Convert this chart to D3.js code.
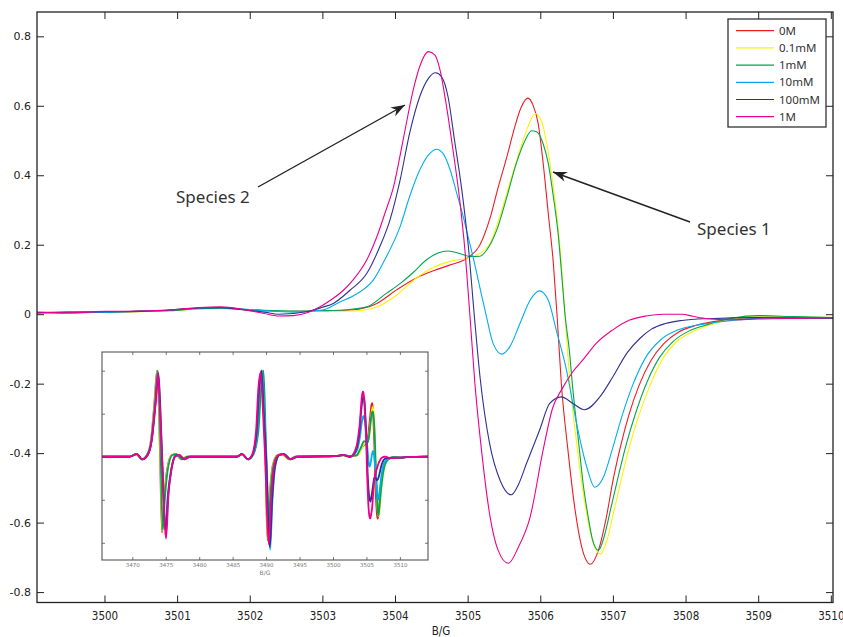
<!DOCTYPE html>
<html><head><meta charset="utf-8">
<script src="https://cdn.jsdelivr.net/npm/d3@7"></script>
<style>body{margin:0;background:#fff} svg{display:block}</style>
</head><body>
<svg id="c" width="843" height="637"></svg>
<script>
// ---------- data ----------
const seriesNames = ["0M","0.1mM","1mM","10mM","100mM","1M"];
const seriesColors = ["#ed1c24","#fff200","#00a651","#00aeef","#2e3192","#ec008c"];
const xTicks = [3500,3501,3502,3503,3504,3505,3506,3507,3508,3509,3510];
const yTicks = [-0.8,-0.6,-0.4,-0.2,0,0.2,0.4,0.6,0.8];
const insetXTicks = [3470,3475,3480,3485,3490,3495,3500,3505,3510];
const insetYTicks = [-1,-0.5,0,0.5,1];

const red = [[3499.07,0.004],[3499.5,0.005],[3500.0,0.006],[3500.5,0.008],[3500.9,0.011],[3501.3,0.017],[3501.6,0.018],[3501.9,0.014],[3502.2,0.01],[3502.6,0.008],[3503.0,0.01],[3503.38,0.012],[3503.75,0.031],[3504.02,0.07],[3504.3,0.105],[3504.53,0.125],[3504.76,0.142],[3505.0,0.162],[3505.17,0.2],[3505.31,0.278],[3505.42,0.365],[3505.54,0.453],[3505.65,0.54],[3505.74,0.597],[3505.83,0.622],[3505.9,0.602],[3505.97,0.55],[3506.04,0.434],[3506.11,0.29],[3506.18,0.146],[3506.23,0.0],[3506.29,-0.2],[3506.38,-0.39],[3506.48,-0.565],[3506.57,-0.67],[3506.69,-0.72],[3506.8,-0.68],[3506.91,-0.584],[3507.0,-0.48],[3507.1,-0.385],[3507.22,-0.29],[3507.36,-0.205],[3507.52,-0.135],[3507.7,-0.085],[3507.9,-0.052],[3508.15,-0.032],[3508.5,-0.018],[3509.0,-0.009],[3509.5,-0.01],[3510.1,-0.01]];
const yellow = [[3499.07,0.002],[3499.5,0.004],[3500.0,0.005],[3500.5,0.007],[3500.9,0.01],[3501.3,0.015],[3501.6,0.016],[3501.9,0.013],[3502.2,0.009],[3502.6,0.007],[3503.0,0.008],[3503.4,0.009],[3503.75,0.021],[3504.02,0.055],[3504.3,0.105],[3504.53,0.135],[3504.76,0.152],[3505.0,0.162],[3505.17,0.175],[3505.31,0.204],[3505.44,0.28],[3505.58,0.377],[3505.72,0.473],[3505.83,0.54],[3505.93,0.578],[3506.02,0.554],[3506.09,0.49],[3506.16,0.396],[3506.23,0.28],[3506.29,0.146],[3506.34,0.0],[3506.41,-0.2],[3506.5,-0.37],[3506.58,-0.5],[3506.66,-0.6],[3506.74,-0.665],[3506.83,-0.69],[3506.92,-0.65],[3507.01,-0.57],[3507.11,-0.48],[3507.23,-0.38],[3507.36,-0.29],[3507.51,-0.205],[3507.68,-0.13],[3507.87,-0.08],[3508.1,-0.05],[3508.35,-0.03],[3508.7,-0.012],[3509.0,-0.005],[3509.5,-0.008],[3510.1,-0.01]];
const green = [[3499.07,0.005],[3499.5,0.003],[3500.0,0.006],[3500.5,0.009],[3500.9,0.01],[3501.3,0.016],[3501.6,0.017],[3501.9,0.014],[3502.2,0.011],[3502.6,0.009],[3503.0,0.01],[3503.3,0.012],[3503.61,0.021],[3503.88,0.06],[3504.07,0.088],[3504.25,0.12],[3504.43,0.156],[3504.6,0.177],[3504.73,0.182],[3504.89,0.175],[3505.03,0.166],[3505.17,0.167],[3505.26,0.184],[3505.4,0.242],[3505.54,0.338],[3505.67,0.434],[3505.79,0.5],[3505.88,0.528],[3505.95,0.525],[3506.04,0.49],[3506.11,0.434],[3506.18,0.338],[3506.25,0.223],[3506.3,0.1],[3506.34,0.0],[3506.4,-0.104],[3506.45,-0.22],[3506.52,-0.354],[3506.59,-0.488],[3506.66,-0.584],[3506.72,-0.65],[3506.8,-0.68],[3506.88,-0.64],[3506.97,-0.56],[3507.07,-0.47],[3507.19,-0.37],[3507.32,-0.28],[3507.47,-0.195],[3507.64,-0.125],[3507.83,-0.078],[3508.05,-0.048],[3508.3,-0.03],[3508.65,-0.011],[3509.0,-0.004],[3509.5,-0.007],[3510.1,-0.01]];
const cyan = [[3499.07,0.003],[3499.5,0.006],[3500.0,0.005],[3500.5,0.009],[3500.9,0.012],[3501.3,0.018],[3501.6,0.019],[3501.9,0.015],[3502.2,0.01],[3502.6,0.006],[3503.0,0.012],[3503.24,0.035],[3503.47,0.058],[3503.7,0.098],[3503.88,0.165],[3504.07,0.252],[3504.2,0.338],[3504.34,0.415],[3504.48,0.463],[3504.57,0.475],[3504.66,0.463],[3504.76,0.415],[3504.85,0.348],[3504.94,0.28],[3505.01,0.22],[3505.08,0.16],[3505.17,0.075],[3505.26,-0.008],[3505.35,-0.084],[3505.47,-0.115],[3505.58,-0.094],[3505.72,-0.027],[3505.86,0.04],[3505.99,0.067],[3506.11,0.04],[3506.22,-0.046],[3506.36,-0.16],[3506.5,-0.315],[3506.64,-0.44],[3506.75,-0.498],[3506.87,-0.469],[3506.99,-0.39],[3507.13,-0.29],[3507.28,-0.2],[3507.45,-0.125],[3507.65,-0.075],[3507.9,-0.045],[3508.2,-0.03],[3508.55,-0.02],[3509.0,-0.012],[3509.5,-0.01],[3510.1,-0.012]];
const navy = [[3499.07,0.004],[3499.5,0.006],[3500.0,0.007],[3500.5,0.008],[3500.9,0.012],[3501.3,0.018],[3501.6,0.019],[3501.9,0.013],[3502.2,0.006],[3502.4,0.0],[3502.8,0.008],[3503.0,0.02],[3503.15,0.031],[3503.38,0.069],[3503.61,0.117],[3503.79,0.194],[3503.93,0.271],[3504.07,0.386],[3504.2,0.52],[3504.34,0.626],[3504.46,0.679],[3504.56,0.695],[3504.64,0.684],[3504.73,0.626],[3504.82,0.5],[3504.92,0.357],[3505.01,0.194],[3505.09,0.0],[3505.17,-0.18],[3505.3,-0.37],[3505.45,-0.48],[3505.6,-0.52],[3505.7,-0.49],[3505.81,-0.43],[3505.99,-0.334],[3506.13,-0.257],[3506.29,-0.238],[3506.45,-0.257],[3506.61,-0.275],[3506.82,-0.238],[3507.0,-0.18],[3507.2,-0.11],[3507.37,-0.07],[3507.53,-0.043],[3507.72,-0.027],[3507.95,-0.018],[3508.3,-0.013],[3509.0,-0.01],[3510.1,-0.012]];
const magenta = [[3499.07,0.006],[3499.5,0.004],[3500.0,0.008],[3500.5,0.009],[3500.9,0.012],[3501.3,0.019],[3501.6,0.021],[3501.9,0.014],[3502.2,0.002],[3502.4,-0.005],[3502.6,-0.004],[3502.8,0.005],[3503.0,0.025],[3503.11,0.04],[3503.29,0.069],[3503.42,0.098],[3503.61,0.156],[3503.75,0.223],[3503.86,0.29],[3503.98,0.367],[3504.11,0.5],[3504.25,0.645],[3504.34,0.713],[3504.46,0.756],[3504.55,0.746],[3504.62,0.703],[3504.71,0.597],[3504.8,0.47],[3504.89,0.33],[3504.96,0.19],[3505.03,0.0],[3505.1,-0.2],[3505.19,-0.39],[3505.31,-0.585],[3505.42,-0.68],[3505.56,-0.717],[3505.7,-0.67],[3505.86,-0.584],[3506.04,-0.39],[3506.17,-0.27],[3506.3,-0.215],[3506.45,-0.165],[3506.6,-0.128],[3506.77,-0.084],[3507.0,-0.045],[3507.23,-0.017],[3507.46,-0.005],[3507.69,0.0],[3507.95,0.0],[3508.1,-0.006],[3508.3,-0.013],[3508.6,-0.016],[3509.0,-0.014],[3509.5,-0.012],[3510.1,-0.01]];

// inset: first two hyperfine lines (field below the main window) and tail
const insetRed = [[3465.5,0.0],[3469.5,0.0],[3470.6,0.03],[3471.4,-0.03],[3472.2,0.02],[3472.8,0.2],[3473.3,0.62],[3473.7,1.0],[3473.95,0.62],[3474.15,0.0],[3474.45,-0.88],[3474.75,-0.5],[3475.2,-0.15],[3475.9,0.02],[3476.5,0.03],[3477.3,-0.03],[3478.2,0.0],[3485.6,0.0],[3486.4,0.03],[3487.3,-0.03],[3488.1,0.03],[3488.7,0.3],[3489.1,0.8],[3489.45,1.0],[3489.7,0.5],[3489.9,0.0],[3490.2,-0.97],[3490.5,-0.5],[3491.0,-0.1],[3491.7,0.02],[3492.4,0.03],[3493.4,-0.03],[3494.4,0.0],[3498.9,0.004]];
const insetYellow = [[3465.5,0.0],[3469.5,0.0],[3470.6,0.03],[3471.4,-0.03],[3472.2,0.02],[3472.8,0.19],[3473.35,0.62],[3473.75,1.0],[3474.0,0.6],[3474.2,0.0],[3474.5,-0.86],[3474.8,-0.5],[3475.25,-0.15],[3475.95,0.02],[3476.55,0.03],[3477.35,-0.03],[3478.2,0.0],[3485.6,0.0],[3486.4,0.03],[3487.3,-0.03],[3488.1,0.03],[3488.75,0.3],[3489.15,0.8],[3489.5,1.0],[3489.75,0.5],[3489.95,0.0],[3490.25,-0.97],[3490.55,-0.5],[3491.05,-0.1],[3491.75,0.02],[3492.45,0.03],[3493.45,-0.03],[3494.4,0.0],[3498.9,0.002]];
const insetGreen = [[3465.5,0.0],[3469.5,0.0],[3470.6,0.03],[3471.4,-0.03],[3472.2,0.02],[3472.85,0.19],[3473.4,0.62],[3473.8,1.0],[3474.05,0.6],[3474.25,0.0],[3474.55,-0.85],[3474.85,-0.5],[3475.3,-0.15],[3476.0,0.02],[3476.6,0.03],[3477.4,-0.03],[3478.3,0.0],[3485.6,0.0],[3486.4,0.03],[3487.3,-0.03],[3488.1,0.03],[3488.85,0.3],[3489.25,0.8],[3489.6,1.0],[3489.85,0.5],[3490.0,0.0],[3490.3,-0.98],[3490.6,-0.5],[3491.1,-0.1],[3491.8,0.02],[3492.5,0.03],[3493.5,-0.03],[3494.5,0.0],[3498.9,0.005]];
const insetCyan = [[3465.5,0.0],[3469.5,0.0],[3470.7,0.03],[3471.5,-0.03],[3472.3,0.02],[3472.85,0.19],[3473.4,0.6],[3473.8,0.98],[3474.1,0.55],[3474.4,0.0],[3474.95,-0.78],[3475.3,-0.45],[3475.8,-0.15],[3476.4,0.01],[3476.9,0.02],[3477.7,-0.03],[3478.6,0.0],[3485.6,0.0],[3486.4,0.03],[3487.3,-0.03],[3488.1,0.03],[3488.7,0.3],[3489.05,0.8],[3489.4,1.0],[3489.75,0.5],[3490.05,0.0],[3490.6,-1.08],[3490.95,-0.5],[3491.4,-0.1],[3492.0,0.02],[3492.7,0.03],[3493.7,-0.03],[3494.7,0.0],[3498.9,0.003]];
const insetNavy = [[3465.5,0.0],[3469.5,0.0],[3470.7,0.03],[3471.5,-0.03],[3472.3,0.02],[3472.9,0.19],[3473.45,0.6],[3473.9,0.97],[3474.2,0.55],[3474.45,0.0],[3475.0,-0.85],[3475.35,-0.45],[3475.85,-0.15],[3476.45,0.01],[3476.95,0.02],[3477.75,-0.03],[3478.6,0.0],[3485.6,0.0],[3486.4,0.03],[3487.3,-0.03],[3488.0,0.03],[3488.6,0.3],[3488.95,0.8],[3489.3,1.0],[3489.65,0.5],[3490.0,0.0],[3490.55,-1.05],[3490.9,-0.5],[3491.35,-0.1],[3492.0,0.02],[3492.7,0.03],[3493.7,-0.03],[3494.7,0.0],[3498.9,0.004]];
const insetMagenta = [[3465.5,0.0],[3469.5,0.0],[3470.7,0.03],[3471.5,-0.03],[3472.3,0.02],[3472.9,0.19],[3473.45,0.6],[3473.85,0.97],[3474.15,0.55],[3474.45,0.0],[3475.05,-0.95],[3475.4,-0.45],[3475.9,-0.12],[3476.5,0.01],[3477.0,0.02],[3477.8,-0.03],[3478.7,0.0],[3485.6,0.0],[3486.4,0.03],[3487.3,-0.03],[3487.95,0.03],[3488.5,0.3],[3488.85,0.8],[3489.2,0.98],[3489.55,0.5],[3489.85,0.0],[3490.4,-1.02],[3490.75,-0.5],[3491.2,-0.1],[3491.9,0.02],[3492.6,0.03],[3493.6,-0.03],[3494.6,0.0],[3498.9,0.006]];
const insetTail = [[3511.0,-0.005],[3514.2,0.0]];

const mainSeries = [red,yellow,green,cyan,navy,magenta];
const insetPre = [insetRed,insetYellow,insetGreen,insetCyan,insetNavy,insetMagenta];

// ---------- drawing ----------
const svg = d3.select("#c");
const L=37,R=833,T=12,B=602.5;
const x = d3.scaleLinear().domain([3499.071,3510.03]).range([L,R]);
const y = d3.scaleLinear().domain([-0.83,0.87]).range([B,T]);

svg.append("defs").append("clipPath").attr("id","mclip")
  .append("rect").attr("x",L).attr("y",T).attr("width",R-L).attr("height",B-T);

const line = d3.line().x(d=>x(d[0])).y(d=>y(d[1])).curve(d3.curveMonotoneX);
const gLines = svg.append("g").attr("clip-path","url(#mclip)");
mainSeries.forEach((s,i)=>{
  gLines.append("path").attr("d",line(s)).attr("fill","none")
    .attr("stroke",seriesColors[i]).attr("stroke-width",1.1);
});

// axes
const fmt = d=>String(d);
const axFont = "'DejaVu Sans', Verdana, sans-serif";
const gy = svg.append("g").attr("transform",`translate(${L},0)`)
  .call(d3.axisLeft(y).tickValues(yTicks).tickSize(-7).tickPadding(6).tickFormat(fmt));
const gyr = svg.append("g").attr("transform",`translate(${R},0)`)
  .call(d3.axisRight(y).tickValues(yTicks).tickSize(-7).tickFormat(""));
const gx = svg.append("g").attr("transform",`translate(0,${B})`)
  .call(d3.axisBottom(x).tickValues(xTicks).tickSize(-7).tickPadding(9).tickFormat(fmt));
const gxt = svg.append("g").attr("transform",`translate(0,${T})`)
  .call(d3.axisTop(x).tickValues(xTicks).tickSize(-7).tickFormat(""));
[gy,gyr,gx,gxt].forEach(g=>{
  g.select(".domain").remove();
  g.selectAll(".tick line").attr("stroke","#222").attr("stroke-width",1);
  g.selectAll("text").attr("fill","#222").style("font-family",axFont).style("font-size","11px");
});
gx.selectAll("text").style("font-family","'Liberation Sans Narrow','DejaVu Sans Condensed',sans-serif").style("font-stretch","condensed").style("font-size","11.5px");
svg.append("rect").attr("x",L).attr("y",T).attr("width",R-L).attr("height",B-T)
  .attr("fill","none").attr("stroke","#222").attr("stroke-width",1.3);
svg.append("text").attr("x",(L+R)/2+6).attr("y",635).attr("text-anchor","middle")
  .style("font-family","'Liberation Sans Narrow','DejaVu Sans Condensed',sans-serif").style("font-size","11.5px")
  .attr("fill","#222").text("B/G");

// legend
const lg = svg.append("g");
lg.append("rect").attr("x",728).attr("y",19).attr("width",98).attr("height",108)
  .attr("fill","#fff").attr("stroke","#333").attr("stroke-width",1.3);
seriesNames.forEach((n,i)=>{
  const yy = 30.7 + i*17.2;
  lg.append("line").attr("x1",736).attr("x2",774).attr("y1",yy).attr("y2",yy)
    .attr("stroke",seriesColors[i]).attr("stroke-width",1.2);
  lg.append("text").attr("x",779).attr("y",yy).attr("dy","0.36em")
    .style("font-family","'Noto Sans',sans-serif").style("font-size","11.5px")
    .attr("fill","#333").text(n);
});

// annotations
function arrow(x1,y1,x2,y2){
  svg.append("line").attr("x1",x1).attr("y1",y1).attr("x2",x2).attr("y2",y2)
    .attr("stroke","#222").attr("stroke-width",1.4);
  const a = Math.atan2(y2-y1,x2-x1), len=14, w=5;
  const bx = x2-len*Math.cos(a), by = y2-len*Math.sin(a);
  const p = [[x2,y2],[bx+w*Math.sin(a),by-w*Math.cos(a)],[x2-0.7*len*Math.cos(a),y2-0.7*len*Math.sin(a)],[bx-w*Math.sin(a),by+w*Math.cos(a)]];
  svg.append("polygon").attr("points",p.map(q=>q.join(",")).join(" ")).attr("fill","#222");
}
arrow(258,187,405,105);
arrow(690,222,553,172);
const annFont = "'Noto Sans','Open Sans',sans-serif";
svg.append("text").attr("x",176).attr("y",203).style("font-family",annFont).style("font-size","17px").attr("fill","#333").text("Species 2");
svg.append("text").attr("x",697).attr("y",235).style("font-family",annFont).style("font-size","17px").attr("fill","#333").text("Species 1");

// inset
const IL=102,IR=428,IT=352,IB=560;
svg.append("rect").attr("x",IL).attr("y",IT).attr("width",IR-IL+2).attr("height",577-IT).attr("fill","#fff");
const ix = d3.scaleLinear().domain([3465.47,3514.2]).range([IL,IR]);
const iy = d3.scaleLinear().domain([-1.2,1.217]).range([IB,IT]);
svg.select("defs").append("clipPath").attr("id","iclip")
  .append("rect").attr("x",IL).attr("y",IT).attr("width",IR-IL).attr("height",IB-IT);
const iline = d3.line().x(d=>ix(d[0])).y(d=>iy(d[1])).curve(d3.curveMonotoneX);
const gi = svg.append("g").attr("clip-path","url(#iclip)");
mainSeries.forEach((s,i)=>{
  const full = insetPre[i].concat(s, insetTail);
  gi.append("path").attr("d",iline(full)).attr("fill","none")
    .attr("stroke",seriesColors[i]).attr("stroke-width",1.8);
});
const iFont = "'DejaVu Sans',sans-serif";
const gix = svg.append("g").attr("transform",`translate(0,${IB})`)
  .call(d3.axisBottom(ix).tickValues(insetXTicks).tickSize(-3).tickPadding(3).tickFormat(fmt));
const gixt = svg.append("g").attr("transform",`translate(0,${IT})`)
  .call(d3.axisTop(ix).tickValues(insetXTicks).tickSize(-3).tickFormat(""));
const giy = svg.append("g").attr("transform",`translate(${IL},0)`)
  .call(d3.axisLeft(iy).tickValues(insetYTicks).tickSize(-3).tickFormat(""));
const giyr = svg.append("g").attr("transform",`translate(${IR},0)`)
  .call(d3.axisRight(iy).tickValues(insetYTicks).tickSize(-3).tickFormat(""));
[gix,gixt,giy,giyr].forEach(g=>{
  g.select(".domain").remove();
  g.selectAll(".tick line").attr("stroke","#555").attr("stroke-width",0.8);
  g.selectAll("text").attr("fill","#777").style("font-family",iFont).style("font-size","5.5px");
});
svg.append("rect").attr("x",IL).attr("y",IT).attr("width",IR-IL).attr("height",IB-IT)
  .attr("fill","none").attr("stroke","#444").attr("stroke-width",1);
svg.append("text").attr("x",(IL+IR)/2).attr("y",575).attr("text-anchor","middle")
  .style("font-family",iFont).style("font-size","6px").attr("fill","#777").text("B/G");
</script>
</body></html>
